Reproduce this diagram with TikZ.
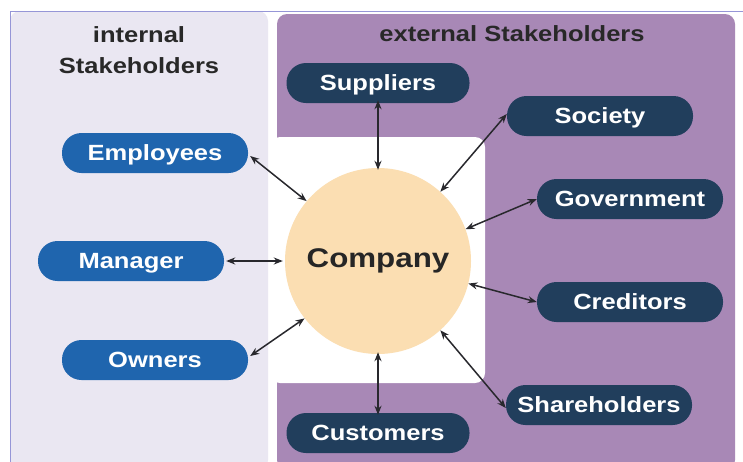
\documentclass[tikz,border=0pt]{standalone}
\usepackage{fontspec}
\setmainfont[FakeStretch=1.16]{Liberation Sans}
\usetikzlibrary{arrows.meta}
\definecolor{panelL}{RGB}{234,231,242}
\definecolor{panelR}{RGB}{168,136,182}
\definecolor{frameC}{RGB}{150,150,215}
\definecolor{pillBlue}{RGB}{31,101,174}
\definecolor{pillNavy}{RGB}{33,62,92}
\definecolor{compC}{RGB}{251,222,178}
\definecolor{headC}{RGB}{40,40,40}
\definecolor{arrC}{RGB}{40,40,45}
\tikzset{
  pill/.style={rectangle, rounded corners=19.5pt, minimum width=186pt, minimum height=40pt,
    inner sep=0pt, text height=15.8pt, text depth=0pt, text=white, font=\fontsize{22}{26}\selectfont\bfseries},
  inpill/.style={pill, fill=pillBlue},
  expill/.style={pill, fill=pillNavy},
  head/.style={text=headC, font=\fontsize{22}{31}\selectfont\bfseries, align=center},
  link/.style={draw=arrC, line width=1.5pt, {Stealth[length=9pt,width=7pt]}-{Stealth[length=9pt,width=7pt]}}
}
\begin{document}
\begin{tikzpicture}[x=1pt,y=-1pt]
\useasboundingbox (0,0) rectangle (743,461);
\fill[white] (0,0) rectangle (743,461);
% panels
\fill[panelL, rounded corners=10pt] (10,11) -- (268,11) -- (268,470) -- (10,470) -- cycle;
\fill[panelR, rounded corners=10pt] (277,14) -- (735,14) -- (735,470) -- (277,470) -- cycle;
\fill[white, rounded corners=10pt] (270,137) rectangle (485,383);
\draw[frameC, line width=1pt] (10,470) -- (10,11) -- (743,11);
% headers
\node[head] (hin) at (139,50) {internal\\Stakeholders};
\node[head] (hex) at (512,34) {external Stakeholders};
% company
\node[circle, fill=compC, minimum size=186pt, inner sep=0pt,
  font=\fontsize{27}{30}\selectfont\bfseries, text=black!85] (comp) at (378,261) {Company};
% internal
\node[inpill] (emp) at (155,153) {Employees};
\node[inpill] (man) at (131,261) {Manager};
\node[inpill] (own) at (155,360) {Owners};
% external
\node[expill, minimum width=183pt] (sup) at (378,83) {Suppliers};
\node[expill] (soc) at (600,116) {Society};
\node[expill] (gov) at (630,199) {Government};
\node[expill] (cre) at (630,302) {Creditors};
\node[expill] (sha) at (599,405) {Shareholders};
\node[expill, minimum width=183pt] (cus) at (378,433) {Customers};
% links
\draw[link] ([shift={(2,3)}]emp.east) -- (comp.140);
\draw[link] ([xshift=2pt]man.east) -- ([xshift=-2pt]comp.180);
\draw[link] ([shift={(2,-4)}]own.east) -- (comp.218);
\draw[link] ([yshift=3]sup.south) -- ([yshift=-2]comp.90);
\draw[link] ([yshift=2]soc.west) -- (comp.48);
\draw[link] (gov.west) -- (comp.20);
\draw[link] (cre.west) -- (comp.-14);
\draw[link] ([yshift=-3]sha.west) -- (comp.-48);
\draw[link] ([yshift=-2]cus.north) -- ([yshift=2]comp.-90);
\end{tikzpicture}
\end{document}
